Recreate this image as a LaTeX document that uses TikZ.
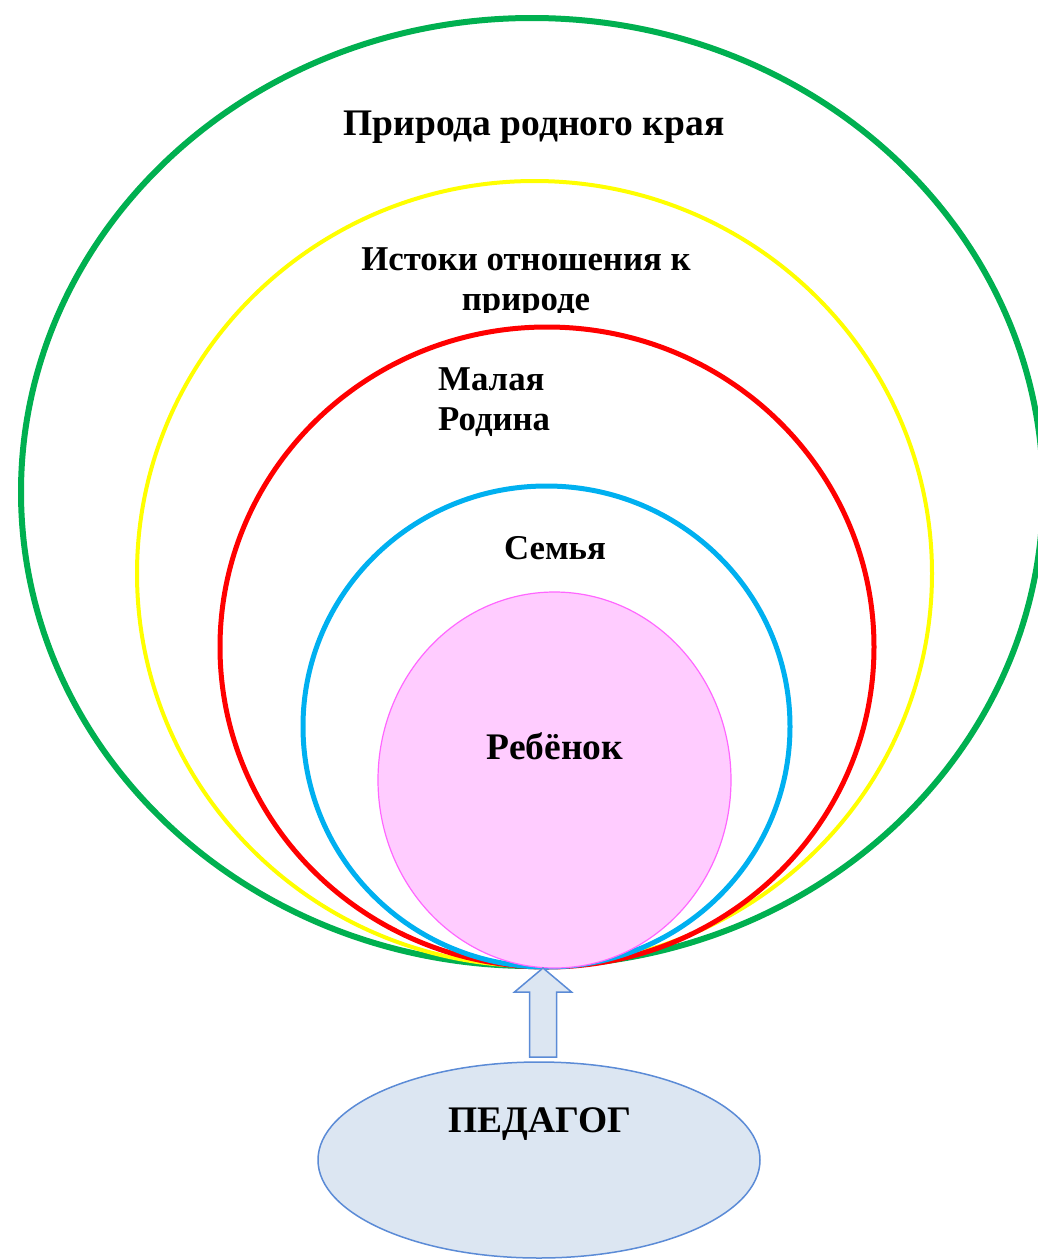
\documentclass[tikz,border=0pt]{standalone}
\usepackage{fontspec}
\setmainfont{Liberation Serif}
\usetikzlibrary{shapes.geometric}
\definecolor{cgreen}{HTML}{00B050}
\definecolor{cyellow}{HTML}{FFFF00}
\definecolor{cred}{HTML}{FF0000}
\definecolor{cblue}{HTML}{00B0F0}
\definecolor{cpinkfill}{HTML}{FFCCFF}
\definecolor{cpinkline}{HTML}{FF66FF}
\definecolor{cpedfill}{HTML}{DCE6F2}
\definecolor{cpedline}{HTML}{5B8BD6}
\begin{document}
\begin{tikzpicture}[x=1pt,y=-1pt,
  ring/.style={ellipse,draw,inner sep=0pt,outer sep=0pt},
  lbl/.style={font=\bfseries\fontsize{37.5}{39.5}\selectfont,inner sep=0pt,align=center},
  lblsmall/.style={font=\bfseries\fontsize{34.8}{39.5}\selectfont,inner sep=0pt,align=center}]
\useasboundingbox (0,0) rectangle (1038,1259);
\begin{scope}
\clip (0,0) rectangle (1038,1259);
\node[ring,draw=cgreen,line width=6pt,minimum width=1022pt,minimum height=948pt] (nature) at (532,492) {};
\node[ring,draw=cyellow,line width=4pt,minimum width=795pt,minimum height=785pt] (origins) at (534.5,573.5) {};
\node[ring,draw=cred,line width=5pt,minimum width=654pt,minimum height=640pt] (homeland) at (547,647) {};
\node[ring,draw=cblue,line width=5pt,minimum width=487pt,minimum height=481pt] (family) at (546.5,726.5) {};
\node[ring,draw=cpinkline,fill=cpinkfill,line width=1.2pt,minimum width=353pt,minimum height=376pt] (child) at (554.5,780) {};
\node[ring,draw=cpedline,fill=cpedfill,line width=1.5pt,minimum width=442pt,minimum height=196pt] (teacher) at (539,1160) {};
\end{scope}
% block arrow from teacher to child
\coordinate (tip) at (543,0 |- child.south);
\coordinate (base) at (543,1057);
\draw[cpedline,fill=cpedfill,line width=1.5pt,line join=miter]
  ([xshift=-13.5pt]base) -- ([xshift=-13.5pt]base |- 0,992) -- ([xshift=-28.5pt]base |- 0,992)
  -- (tip) -- ([xshift=28.5pt]base |- 0,992) -- ([xshift=13.5pt]base |- 0,992) -- ([xshift=13.5pt]base) -- cycle;
% labels
\node[lbl] (tnature) at (534,127) {Природа родного края};
\begin{scope}
\clip (300,230) rectangle (760,312);
\node[lblsmall] (torigins) at (526,283) {Истоки отношения к\\природе};
\end{scope}
\node[lblsmall,align=left,anchor=west] (thome) at (438,402) {Малая\\Родина};
\node[lblsmall] (tfamily) at (555,548) {Семья};
\node[lbl] (tchild) at (555,746) {Ребёнок};
\node[lbl] (tteacher) at (540,1124) {ПЕДАГОГ};
\end{tikzpicture}
\end{document}
